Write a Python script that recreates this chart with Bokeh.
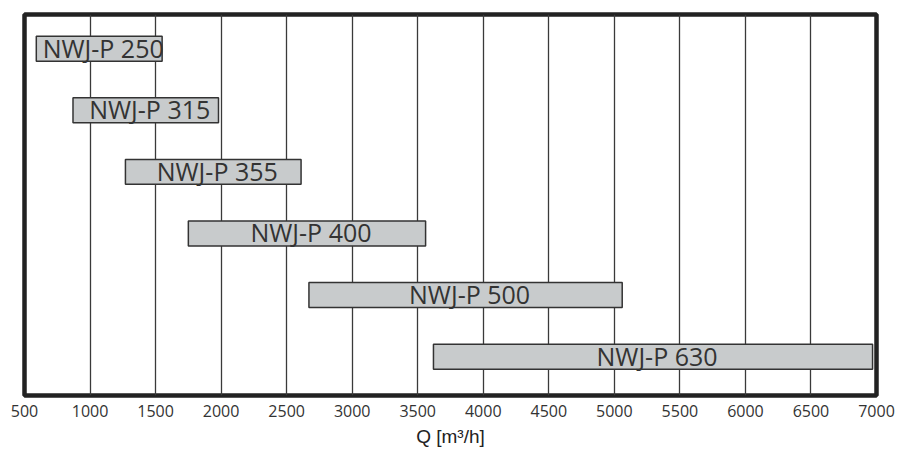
from bokeh.plotting import figure
from bokeh.models import Range1d, FixedTicker, ColumnDataSource
from bokeh.core.properties import value
from bokeh.embed import file_html
from bokeh.resources import INLINE

# ---- data ----
models = ["NWJ-P 250", "NWJ-P 315", "NWJ-P 355", "NWJ-P 400", "NWJ-P 500", "NWJ-P 630"]
q_min = [590, 870, 1270, 1750, 2670, 3620]
q_max = [1550, 1980, 2610, 3560, 5060, 6970]
x_ticks = [500, 1000, 1500, 2000, 2500, 3000, 3500, 4000, 4500, 5000, 5500, 6000, 6500, 7000]
axis_title = "Q [m³/h]"

rows = list(range(len(models)))
mid = [(a + b) / 2 for a, b in zip(q_min, q_max)]
src = ColumnDataSource(dict(y=rows, left=q_min, right=q_max, mid=mid, label=models))

y_bottom, y_top = 5.63, -0.555
p = figure(width=908, height=450,
           x_range=Range1d(x_ticks[0], x_ticks[-1]), y_range=Range1d(y_bottom, y_top),
           output_backend="svg", toolbar_location=None,
           min_border_left=24, min_border_right=32, min_border_top=14, min_border_bottom=55)

p.background_fill_color = "white"
p.border_fill_color = "white"
p.outline_line_color = "#222222"
p.outline_line_width = 4.5

p.yaxis.visible = False
p.ygrid.visible = False
p.xgrid.ticker = FixedTicker(ticks=x_ticks[1:-1])
p.xgrid.grid_line_color = "#3a3a3a"
p.xgrid.grid_line_width = 1.3

p.hbar(y="y", left="left", right="right", height=0.405, source=src,
       fill_color="#c8cbcc", line_color="#333333", line_width=1.5)

p.text(x="mid", y="y", text="label", source=src, text_align="center", text_baseline="middle",
       text_font=value("Open Sans"), text_font_size="25px", text_color="#333333", x_offset=4, y_offset=-1)

ax = p.xaxis[0]
ax.ticker = FixedTicker(ticks=x_ticks)
ax.major_tick_line_color = None
ax.minor_tick_line_color = None
ax.axis_line_color = None
ax.major_tick_out = 0
ax.major_tick_in = 0
ax.major_label_standoff = 9
ax.major_label_text_font = "Open Sans"
ax.major_label_text_font_size = "16px"
ax.major_label_text_color = "#333333"
ax.axis_label = axis_title
ax.axis_label_text_font = "Liberation Sans"
ax.axis_label_text_font_style = "normal"
ax.axis_label_text_font_size = "19px"
ax.axis_label_text_color = "#222222"
ax.axis_label_standoff = 6

open("out.html", "w").write(file_html(p, INLINE))
